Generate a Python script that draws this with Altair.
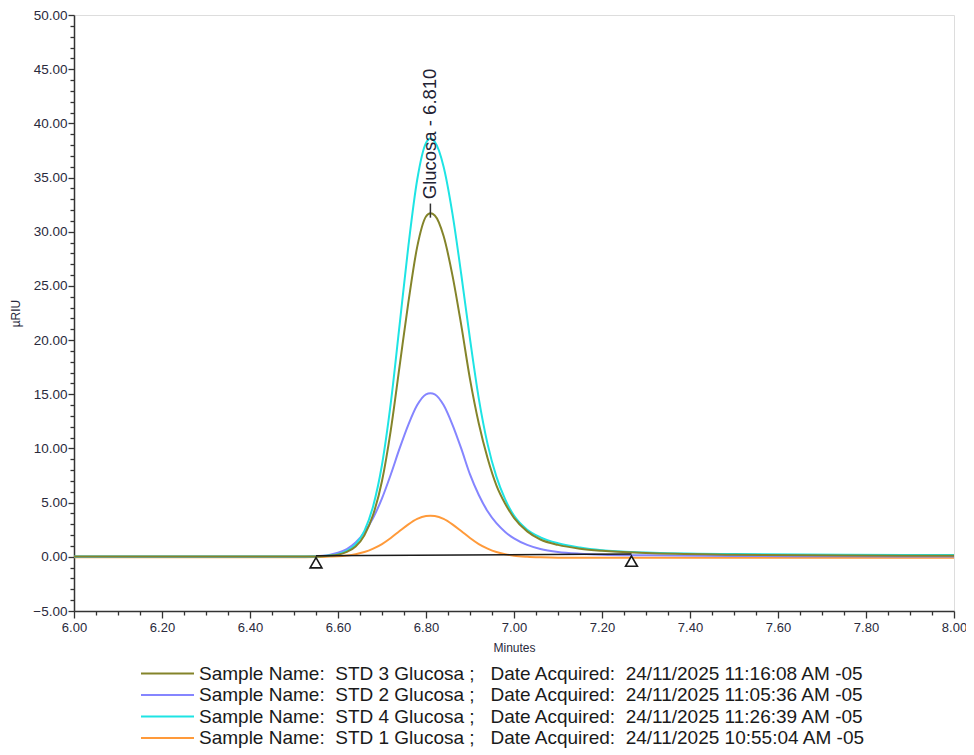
import altair as alt
import pandas as pd

# ---------------- data ----------------
time = [6.00, 6.50, 6.55, 6.58, 6.60, 6.62, 6.64, 6.66, 6.68, 6.70, 6.72, 6.74,
        6.76, 6.78, 6.80, 6.81, 6.82, 6.84, 6.86, 6.88, 6.90, 6.92, 6.94, 6.96,
        6.98, 7.00, 7.03, 7.06, 7.10, 7.15, 7.20, 7.30, 7.50, 7.75, 8.00]

std4 = [0.02, 0.02, 0.04, 0.12, 0.25, 0.55, 1.15, 2.4, 4.7, 8.5, 14.2, 21.4,
        28.7, 34.8, 38.2, 38.6, 38.3, 36.0, 31.7, 26.1, 20.1, 14.6, 10.4, 7.4,
        5.3, 3.8, 2.5, 1.8, 1.25, 0.85, 0.6, 0.4, 0.25, 0.19, 0.16]
std3 = [0.03, 0.03, 0.04, 0.1, 0.2, 0.45, 0.95, 2.0, 3.9, 7.0, 11.7, 17.6,
        23.5, 28.6, 31.4, 31.7, 31.5, 29.6, 26.0, 21.4, 16.4, 12.3, 9.1, 6.6,
        4.9, 3.6, 2.35, 1.6, 1.1, 0.75, 0.55, 0.35, 0.2, 0.13, 0.1]
std2 = [0.0, 0.0, 0.05, 0.17, 0.37, 0.72, 1.32, 2.27, 3.6, 5.4, 7.6, 10.0,
        12.2, 14.0, 15.0, 15.1, 15.0, 14.0, 12.2, 10.0, 7.6, 5.7, 4.2, 3.1,
        2.3, 1.7, 1.1, 0.72, 0.44, 0.28, 0.2, 0.14, 0.08, 0.05, 0.03]
std1 = [-0.04, -0.04, -0.02, 0.02, 0.05, 0.12, 0.24, 0.44, 0.76, 1.18, 1.74, 2.38,
        3.0, 3.5, 3.77, 3.8, 3.77, 3.5, 3.0, 2.38, 1.74, 1.18, 0.76, 0.44,
        0.24, 0.1, 0.0, -0.05, -0.08, -0.08, -0.08, -0.08, -0.08, -0.08, -0.08]

samples = ["STD 3 Glucosa", "STD 2 Glucosa", "STD 4 Glucosa", "STD 1 Glucosa"]
acquired = ["24/11/2025 11:16:08 AM -05", "24/11/2025 11:05:36 AM -05",
            "24/11/2025 11:26:39 AM -05", "24/11/2025 10:55:04 AM -05"]
colors = ["#84842a", "#8585ff", "#1ee4e4", "#ff9a3a"]

baseline_time = [6.550, 7.267]
baseline_val = [0.10, 0.25]

peak_time = [6.81]
peak_label = ["Glucosa - 6.810"]
peak_tick_lo = [31.3]
peak_tick_hi = [32.6]
peak_text_at = [33.0]

NB = "\u00a0"
labels = [f"Sample Name:{NB} {s} ;{NB}{NB} Date Acquired:{NB} {a}" for s, a in zip(samples, acquired)]

series_vals = {labels[0]: std3, labels[1]: std2, labels[2]: std4, labels[3]: std1}
draw_order = [labels[3], labels[1], labels[2], labels[0]]
rows = []
for lab in draw_order:
    for t, v in zip(time, series_vals[lab]):
        rows.append({"time": t, "value": v, "sample": lab})
df = pd.DataFrame(rows)

base_df = pd.DataFrame({"time": baseline_time, "value": baseline_val})
peak_df = pd.DataFrame({"time": peak_time, "lo": peak_tick_lo, "hi": peak_tick_hi,
                        "at": peak_text_at, "label": peak_label})

# ---------------- styling ----------------
FONT = "Liberation Sans"
TXT = "#2a2a3c"
AX = "#333333"

x_ticks = [round(6 + i * 0.05, 2) for i in range(41)]
y_ticks = list(range(-5, 51))

xaxis = alt.Axis(values=x_ticks, grid=False, labelOverlap=False, labelFlush=False,
                 labelExpr="round(datum.value*100) % 20 === 0 ? format(datum.value, '.2f') : ''",
                 tickSize={"condition": {"test": "round(datum.value*100) % 20 === 0", "value": 7}, "value": 4},
                 tickColor=AX, tickWidth=1.3, domainColor=AX, domainWidth=1.5,
                 labelFont=FONT, labelFontSize=13, labelColor=TXT, labelPadding=3,
                 title="Minutes", titleFont=FONT, titleFontSize=12, titleFontWeight="normal",
                 titleColor=TXT, titlePadding=8)
yaxis = alt.Axis(values=y_ticks, grid=False, labelOverlap=False, labelFlush=False,
                 labelExpr="datum.value % 5 === 0 ? format(datum.value, '.2f') : ''",
                 tickSize={"condition": {"test": "datum.value % 5 === 0", "value": 6}, "value": 4},
                 tickColor=AX, tickWidth=1.3, domainColor=AX, domainWidth=1.5,
                 labelFont=FONT, labelFontSize=13.5, labelColor=TXT, labelPadding=1,
                 title="µRIU", titleFont=FONT, titleFontSize=12, titleFontWeight="normal",
                 titleColor=TXT, titlePadding=10)

xs = alt.Scale(domain=[6, 8], nice=False, zero=False)
ys = alt.Scale(domain=[-5, 50], nice=False, zero=False)
xenc = alt.X("time:Q", scale=xs, axis=xaxis)
yenc = alt.Y("value:Q", scale=ys, axis=yaxis)

legend = alt.Legend(orient="none", legendX=66, legendY=648, direction="vertical", title=None,
                    symbolType="stroke", symbolSize=2809, symbolStrokeWidth=2,
                    labelFont=FONT, labelFontSize=19, labelColor="#1a1a1a", labelLimit=900,
                    labelOffset=4, rowPadding=0.5, clipHeight=21, padding=0)

lines = alt.Chart(df).mark_line(strokeWidth=2, interpolate="monotone").encode(
    x=xenc, y=yenc,
    color=alt.Color("sample:N", scale=alt.Scale(domain=labels, range=colors), legend=legend),
)

base_line = alt.Chart(base_df).mark_line(color="#1a1a1a", strokeWidth=1.5).encode(x=xenc, y=yenc)
triangles = alt.Chart(base_df).mark_point(shape="triangle-up", size=140, filled=True, fill="white",
                                          stroke="#1a1a1a", strokeWidth=1.6, opacity=1,
                                          yOffset=7).encode(x=xenc, y=yenc)

peak_tick = alt.Chart(peak_df).mark_rule(color="#333333", strokeWidth=1.5).encode(
    x=alt.X("time:Q", scale=xs, axis=xaxis), y=alt.Y("lo:Q", scale=ys, axis=yaxis), y2="hi:Q")
peak_text = alt.Chart(peak_df).mark_text(angle=270, align="left", baseline="middle",
                                         font=FONT, fontSize=18.5, color="#222233").encode(
    x=alt.X("time:Q", scale=xs, axis=xaxis), y=alt.Y("at:Q", scale=ys, axis=yaxis), text="label:N")

chart = alt.layer(lines, base_line, triangles, peak_tick, peak_text).properties(
    width=880, height=596,
    autosize=alt.AutoSizeParams(type="none"),
    padding={"left": 66, "top": 7, "right": 12, "bottom": 138},
).configure_view(stroke="#555555", strokeWidth=1).configure(background="white")

chart.save("out.html", embed_options={"renderer": "svg", "actions": False})
